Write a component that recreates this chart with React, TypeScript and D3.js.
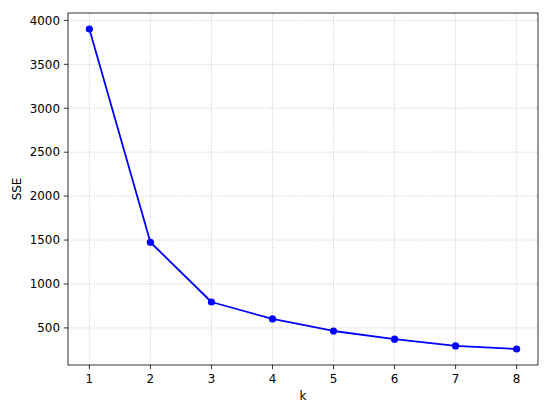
import React from 'react';
import * as d3 from 'd3';

// elbow curve values
const kValues = [1, 2, 3, 4, 5, 6, 7, 8];
const sseValues = [3902, 1475, 795, 602, 465, 372, 295, 260];
const yTicks = [500, 1000, 1500, 2000, 2500, 3000, 3500, 4000];

const W = 550;
const H = 411;
const box = { left: 68, right: 538, top: 13, bottom: 365 };
const font = 'DejaVu Sans, sans-serif';

export default function App() {
    const x = d3.scaleLinear().domain([0.65, 8.35]).range([box.left, box.right]);
    const yMin = d3.min(sseValues)!;
    const yMax = d3.max(sseValues)!;
    const pad = (yMax - yMin) * 0.05;
    const y = d3.scaleLinear().domain([yMin - pad, yMax + pad]).range([box.bottom, box.top]);

    const line = d3.line<number>()
        .x((d, i) => x(kValues[i]))
        .y(d => y(d));

    return (
        <div style={{ position: 'absolute', left: 0, top: 0 }}>
            <svg width={W} height={H} style={{ display: 'block', background: '#fff' }}>
                {/* grid */}
                <g stroke="#b0b0b0" strokeWidth={0.7} strokeDasharray="1,1.6">
                    {kValues.map(k => (
                        <line key={'gx' + k} x1={x(k)} x2={x(k)} y1={box.top} y2={box.bottom} />
                    ))}
                    {yTicks.map(t => (
                        <line key={'gy' + t} x1={box.left} x2={box.right} y1={y(t)} y2={y(t)} />
                    ))}
                </g>

                <path d={line(sseValues) || ''} fill="none" stroke="#0000ff" strokeWidth={1.8} strokeLinejoin="round" />
                {sseValues.map((v, i) => (
                    <circle key={i} cx={x(kValues[i])} cy={y(v)} r={3.6} fill="#0000ff" />
                ))}

                <rect x={box.left} y={box.top} width={box.right - box.left} height={box.bottom - box.top}
                      fill="none" stroke="#000" strokeWidth={0.8} />

                {/* x axis */}
                <g fontFamily={font} fontSize={11.9} fill="#000">
                    {kValues.map(k => (
                        <g key={'tx' + k}>
                            <line x1={x(k)} x2={x(k)} y1={box.bottom} y2={box.bottom + 4.2} stroke="#000" strokeWidth={0.8} />
                            <text x={x(k)} y={box.bottom + 18} textAnchor="middle">{k}</text>
                        </g>
                    ))}
                    {yTicks.map(t => (
                        <g key={'ty' + t}>
                            <line x1={box.left - 4.2} x2={box.left} y1={y(t)} y2={y(t)} stroke="#000" strokeWidth={0.8} />
                            <text x={box.left - 8} y={y(t)} dy="0.36em" textAnchor="end">{t}</text>
                        </g>
                    ))}
                    <text x={(box.left + box.right) / 2} y={400} textAnchor="middle">k</text>
                    <text transform={`translate(21,${(box.top + box.bottom) / 2}) rotate(-90)`} textAnchor="middle">SSE</text>
                </g>
            </svg>
        </div>
    );
}
